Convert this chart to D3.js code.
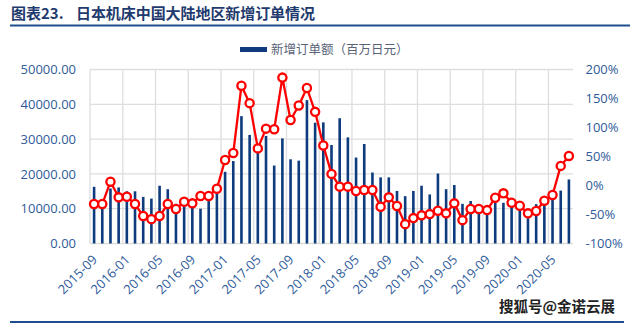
<!DOCTYPE html>
<html><head><meta charset="utf-8">
<script src="https://cdn.jsdelivr.net/npm/d3@7"></script>
<style>
html,body{margin:0;padding:0;background:#fff;}
svg{display:block;}
</style></head>
<body><svg id="chart" width="640" height="326"></svg>
<script>
// Monthly categories, 2015-09 .. 2020-07
const months = [
  "2015-09","2015-10","2015-11","2015-12",
  "2016-01","2016-02","2016-03","2016-04","2016-05","2016-06","2016-07","2016-08","2016-09","2016-10","2016-11","2016-12",
  "2017-01","2017-02","2017-03","2017-04","2017-05","2017-06","2017-07","2017-08","2017-09","2017-10","2017-11","2017-12",
  "2018-01","2018-02","2018-03","2018-04","2018-05","2018-06","2018-07","2018-08","2018-09","2018-10","2018-11","2018-12",
  "2019-01","2019-02","2019-03","2019-04","2019-05","2019-06","2019-07","2019-08","2019-09","2019-10","2019-11","2019-12",
  "2020-01","2020-02","2020-03","2020-04","2020-05","2020-06","2020-07"
];
// New orders, million yen
const orders = [
  16300,12200,15800,16100,
  15000,15000,13400,12900,16600,15600,11400,10600,11400,10000,14000,14500,
  20600,23700,36600,31200,27000,30900,22400,30200,24200,23800,41200,34700,
  34800,28300,36000,30500,24700,28600,20400,19000,19000,15100,13600,15100,
  16600,14100,20100,15600,16800,11400,12200,11000,10900,11900,11700,10600,
  10800,7300,11300,11500,14000,15200,18400
];
// Year-on-year change, %
const yoy = [
  -32,-32,6.6,-20.4,
  -19.3,-32,-52.7,-58,-52.7,-32,-40.6,-28,-30.8,-18,-18,-5.5,
  44,56,172,142,64,98,97,186,113,138,168,127,
  69,20,-2,-2,-9.5,-7.7,-7.7,-36.6,-20.4,-35.4,-66.6,-56.2,
  -51.5,-49.3,-43.6,-48,-30.8,-59.7,-40.6,-40.6,-42.4,-21,-13.5,-29.7,
  -35,-48,-44,-26.3,-16.4,33.8,51
];
const leftTicks = [0,10000,20000,30000,40000,50000];
const rightTicks = [-100,-50,0,50,100,150,200];
const tickMonths = ["2015-09","2016-01","2016-05","2016-09","2017-01","2017-05","2017-09",
  "2018-01","2018-05","2018-09","2019-01","2019-05","2019-09","2020-01","2020-05"];

const titleNo = "图表23.";
const titleText = "日本机床中国大陆地区新增订单情况";
const legendText = "新增订单额（百万日元）";
const markText = "搜狐号@金诺云展";

const svg = d3.select("#chart");
const box = {left: 90, right: 573, top: 69.5, bottom: 243.5};
const axisColor = "#2f5b9a";
const barColor = "#0d3b7e";
const lineColor = "#ff0000";
const gridColor = "#dedede";
const font = "'Open Sans', 'Noto Sans', sans-serif";

const x = d3.scaleBand().domain(months).range([box.left, box.right]).padding(0);
const y = d3.scaleLinear().domain([0, 50000]).range([box.bottom, box.top]);
const y2 = d3.scaleLinear().domain([-100, 200]).range([box.bottom, box.top]);
const cx = d => x(d) + x.bandwidth() / 2;

// Title and rules
const titleStyle = sel => sel
  .attr("font-family", "'Noto Sans CJK SC', sans-serif")
  .attr("font-weight", 700).attr("font-size", 15)
  .attr("fill", "#1f3a6e");
svg.append("text").attr("x", 11).attr("y", 19).call(titleStyle).text(titleNo);
svg.append("text").attr("x", 76).attr("y", 19).call(titleStyle)
  .attr("textLength", 239).text(titleText);
svg.append("line").attr("x1", 10).attr("x2", 630).attr("y1", 25.5).attr("y2", 25.5)
  .attr("stroke", "#1f4e8c").attr("stroke-width", 2.2);
svg.append("line").attr("x1", 10).attr("x2", 624).attr("y1", 322).attr("y2", 322)
  .attr("stroke", "#1f4e8c").attr("stroke-width", 2);

// Grid
const grid = svg.append("g");
grid.selectAll("line.h").data(leftTicks).join("line")
  .attr("x1", box.left).attr("x2", box.right)
  .attr("y1", d => y(d)).attr("y2", d => y(d))
  .attr("stroke", gridColor).attr("stroke-width", 1.3);
grid.selectAll("line.v").data(months.filter((d, i) => i % 4 === 0)).join("line")
  .attr("x1", d => x(d)).attr("x2", d => x(d))
  .attr("y1", box.top).attr("y2", box.bottom)
  .attr("stroke", gridColor).attr("stroke-width", 1.3);

// Left axis
const yAxis = d3.axisLeft(y).tickValues(leftTicks).tickFormat(d3.format(".2f")).tickSize(0).tickPadding(14);
const gy = svg.append("g").attr("transform", `translate(${box.left},0)`).call(yAxis);
gy.select(".domain").remove();
gy.selectAll("text").attr("font-family", font).attr("font-size", 13).attr("fill", axisColor);

// Right axis
const y2Axis = d3.axisRight(y2).tickValues(rightTicks).tickFormat(d => d + "%").tickSize(0).tickPadding(12.5);
const gy2 = svg.append("g").attr("transform", `translate(${box.right},0)`).call(y2Axis);
gy2.select(".domain").remove();
gy2.selectAll("text").attr("font-family", font).attr("font-size", 13).attr("fill", axisColor);

// Bars
svg.append("g").selectAll("rect").data(months).join("rect")
  .attr("x", d => cx(d) - 1.3)
  .attr("width", 2.6)
  .attr("y", (d, i) => y(orders[i]))
  .attr("height", (d, i) => y(0) - y(orders[i]))
  .attr("fill", barColor);

// YoY line with markers
const line = d3.line().x((d, i) => cx(months[i])).y(d => y2(d));
svg.append("path").datum(yoy).attr("d", line)
  .attr("fill", "none").attr("stroke", lineColor).attr("stroke-width", 2.3)
  .attr("stroke-linejoin", "round");
svg.append("g").selectAll("circle").data(yoy).join("circle")
  .attr("cx", (d, i) => cx(months[i])).attr("cy", d => y2(d))
  .attr("r", 4.1).attr("fill", "#fff").attr("stroke", lineColor).attr("stroke-width", 2.3);

// X labels
const xAxis = d3.axisBottom(x).tickValues(tickMonths).tickSize(0).tickPadding(0);
const gx = svg.append("g").attr("transform", `translate(0,${box.bottom})`).call(xAxis);
gx.select(".domain").remove();
gx.selectAll("text")
  .attr("font-family", font).attr("font-size", 13).attr("fill", axisColor)
  .attr("text-anchor", "end")
  .attr("dy", 0)
  .attr("transform", "translate(4,17) rotate(-45)");

// Legend
const lg = svg.append("g").attr("transform", "translate(240,49.5)");
lg.append("rect").attr("x", 0).attr("y", -2.5).attr("width", 27).attr("height", 5).attr("fill", barColor);
lg.append("text").attr("x", 31).attr("y", 4.5)
  .attr("font-family", "'Noto Sans CJK SC', sans-serif").attr("font-size", 12.5)
  .attr("fill", "#5a6478").text(legendText);

// Corner mark
svg.append("text").attr("x", 615).attr("y", 312).attr("text-anchor", "end")
  .attr("font-family", "'Noto Sans CJK SC', sans-serif").attr("font-size", 14.5).attr("font-weight", 700)
  .attr("fill", "#222").attr("stroke", "#fff").attr("stroke-width", 2.5).attr("paint-order", "stroke")
  .text(markText);
</script>
</body></html>
